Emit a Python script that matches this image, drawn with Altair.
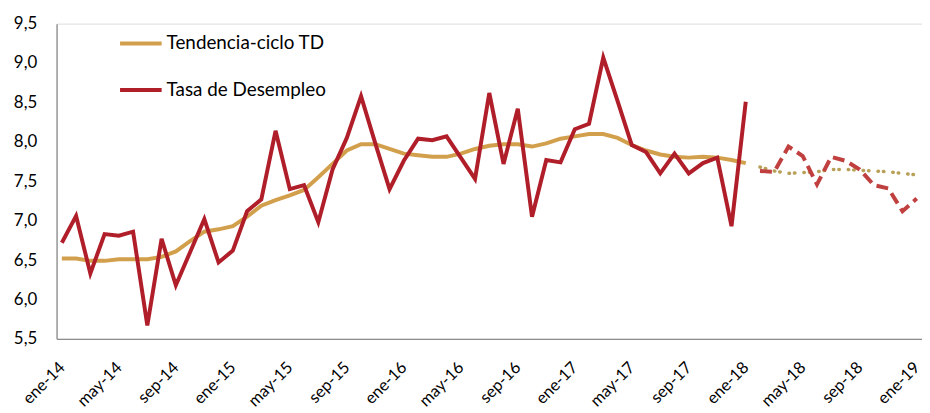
import altair as alt
import pandas as pd

meses = ["ene", "feb", "mar", "abr", "may", "jun", "jul", "ago", "sep", "oct", "nov", "dic"]
anios = ["14", "15", "16", "17", "18", "19"]
etiquetas = [f"{m}-{a}" for a in anios for m in meses][:61]

tasa = [6.72, 7.06, 6.33, 6.83, 6.81, 6.86, 5.67, 6.77, 6.18, 6.60, 7.02, 6.47,
        6.62, 7.12, 7.27, 8.14, 7.40, 7.45, 6.98, 7.65, 8.05, 8.58, 7.98, 7.40,
        7.76, 8.04, 8.02, 8.07, 7.80, 7.53, 8.62, 7.72, 8.42, 7.05, 7.77, 7.74,
        8.16, 8.23, 9.07, 8.52, 7.96, 7.87, 7.60, 7.85, 7.60, 7.73, 7.80, 6.93,
        8.51]
tasa_proy = [7.63, 7.62, 7.94, 7.82, 7.46, 7.81, 7.76, 7.65, 7.45, 7.41, 7.12, 7.28]

tendencia = [6.52, 6.52, 6.49, 6.49, 6.51, 6.51, 6.51, 6.54, 6.61, 6.74, 6.86, 6.89,
             6.93, 7.05, 7.19, 7.26, 7.32, 7.39, 7.55, 7.72, 7.89, 7.97, 7.97, 7.91,
             7.85, 7.83, 7.81, 7.81, 7.85, 7.91, 7.95, 7.97, 7.97, 7.94, 7.98, 8.04,
             8.07, 8.10, 8.10, 8.05, 7.96, 7.89, 7.84, 7.81, 7.80, 7.81, 7.80, 7.77,
             7.73]
tendencia_proy = [7.68, 7.63, 7.60, 7.61, 7.62, 7.65, 7.65, 7.64, 7.63, 7.62, 7.60, 7.58]

S_TEND = "Tendencia-ciclo TD"
S_TASA = "Tasa de Desempleo"

n_hist = len(tasa)
df_hist = pd.concat([
    pd.DataFrame({"mes": etiquetas[:n_hist], "valor": tendencia, "serie": S_TEND}),
    pd.DataFrame({"mes": etiquetas[:n_hist], "valor": tasa, "serie": S_TASA}),
])
df_tend_p = pd.DataFrame({"mes": etiquetas[n_hist:], "valor": tendencia_proy})
df_tasa_p = pd.DataFrame({"mes": etiquetas[n_hist:], "valor": tasa_proy})

FONT = "Lato"

x_enc = alt.X("mes:O", sort=etiquetas,
              scale=alt.Scale(type="point", domain=etiquetas, padding=0.37),
              axis=alt.Axis(values=etiquetas[::4], labelAngle=-45, labelAlign="right",
                            labelBaseline="middle", labelFontSize=16.5, labelFont=FONT,
                            labelColor="#000000", ticks=False, labelPadding=26,
                            domainColor="#8c8c8c", domainWidth=1.3, title=None,
                            grid=False, labelOverlap=False))
y_enc = alt.Y("valor:Q",
              scale=alt.Scale(domain=[5.5, 9.5], nice=False, zero=False),
              axis=alt.Axis(values=[5.5, 6.0, 6.5, 7.0, 7.5, 8.0, 8.5, 9.0, 9.5],
                            labelExpr="replace(format(datum.value, '.1f'), '.', ',')",
                            labelFontSize=17, labelFont=FONT, labelColor="#000000",
                            ticks=False, labelPadding=20, domainColor="#8c8c8c",
                            domainWidth=1.3, title=None, grid=False))

hist = alt.Chart(df_hist).mark_line(strokeWidth=4, strokeJoin="miter").encode(
    x=x_enc, y=y_enc,
    color=alt.Color("serie:N",
                    scale=alt.Scale(domain=[S_TEND, S_TASA], range=["#D2A04C", "#B01E2A"]),
                    legend=alt.Legend(orient="none", legendX=62, legendY=-3, title=None,
                                      symbolType="stroke", symbolSize=1760,
                                      symbolStrokeWidth=4, labelFontSize=19,
                                      labelFont=FONT, labelColor="#000000",
                                      labelLimit=0, rowPadding=14, labelOffset=3,
                                      padding=0)),
    order=alt.Order("serie:N", sort="ascending"),
)

tend_p = alt.Chart(df_tend_p).mark_line(
    strokeWidth=3.5, strokeDash=[0.5, 5, 0.5, 9], strokeCap="round", color="#B9A058"
).encode(x=x_enc, y=y_enc)

tasa_p = alt.Chart(df_tasa_p).mark_line(
    strokeWidth=4, strokeDash=[12, 6], color="#C0403F"
).encode(x=x_enc, y=y_enc)

chart = alt.layer(hist, tend_p, tasa_p).properties(
    width=873, height=318,
    autosize=alt.AutoSizeParams(type="none"),
    padding={"left": 49, "top": 14, "right": 0, "bottom": 73},
).configure_view(stroke=None).configure(background="#ffffff")

chart.save("out.html", embed_options={"renderer": "svg", "actions": False})
